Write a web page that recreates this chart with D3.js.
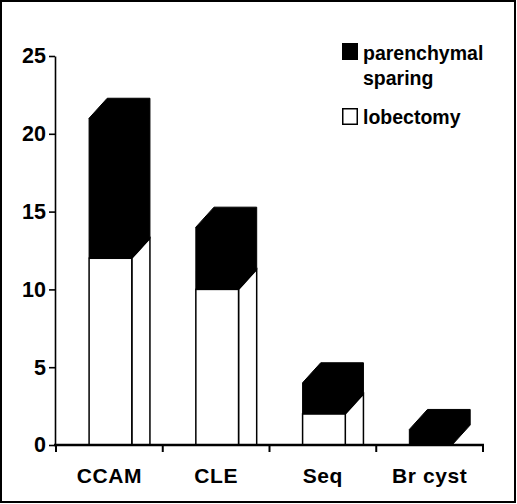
<!DOCTYPE html>
<html>
<head>
<meta charset="utf-8">
<script src="https://cdn.jsdelivr.net/npm/d3@7"></script>
<style>
  html, body { margin: 0; padding: 0; background: #fff; }
  svg { display: block; }
  text { font-family: "Liberation Sans", Arial, sans-serif; font-weight: bold; fill: #000; }
</style>
</head>
<body>
<svg id="chart" width="517" height="504"></svg>
<script>
const categories = ["CCAM", "CLE", "Seq", "Br cyst"];
const lobectomy = [12, 10, 2, 0];
const parenchymalSparing = [9, 4, 2, 1];
const yTicks = [0, 5, 10, 15, 20, 25];
const legendLabels = [["parenchymal", "sparing"], ["lobectomy"]];

const svg = d3.select("#chart");

// frame
svg.append("rect").attr("x", 1).attr("y", 1).attr("width", 514).attr("height", 501)
  .attr("fill", "#fff").attr("stroke", "#000").attr("stroke-width", 2);

const x = d3.scaleBand().domain(categories).range([56, 483]).padding(0);
const y = d3.scaleLinear().domain([0, 25]).range([445, 56]);

const bw = x.bandwidth();
const dx = bw * 0.17, dy = 20;
const y0 = y(0);

const g = svg.append("g");

categories.forEach((c, i) => {
  const xl = x(c) + bw * 0.31;
  const xr = xl + bw * 0.40;
  const lob = lobectomy[i];
  const tot = lob + parenchymalSparing[i];
  const yl = y(lob), yt = y(tot);
  if (lob > 0) {
    g.append("polygon")
      .attr("points", [[xr, y0], [xr, yl], [xr + dx, yl - dy], [xr + dx, y0]].map(p => p.join(",")).join(" "))
      .attr("fill", "#fff").attr("stroke", "#000").attr("stroke-width", 1.5);
    g.append("rect").attr("x", xl).attr("y", yl).attr("width", xr - xl).attr("height", y0 - yl)
      .attr("fill", "#fff").attr("stroke", "#000").attr("stroke-width", 1.5);
  }
  const sideBottom = lob > 0 ? [[xr, yl], [xr + dx, yl - dy]] : [[xr, y0], [xr + dx, y0 - dy]];
  g.append("polygon")
    .attr("points", [[xl, yl], [xl, yt], [xl + dx, yt - dy], [xr + dx, yt - dy],
                     [xr + dx, sideBottom[1][1]], [xr, sideBottom[0][1]]].map(p => p.join(",")).join(" "))
    .attr("fill", "#000").attr("stroke", "#000").attr("stroke-width", 1);
});

// y axis
const yAxis = svg.append("g").attr("transform", "translate(55,0)")
  .call(d3.axisLeft(y).tickValues(yTicks).tickSize(6).tickPadding(3).tickSizeOuter(0));
yAxis.select(".domain").attr("stroke", "#000").attr("stroke-width", 1.6);
yAxis.selectAll(".tick line").attr("stroke", "#000").attr("stroke-width", 1.6);
yAxis.selectAll(".tick text").style("font-size", "21.5px").attr("fill", "#000");

// x axis baseline with boundary ticks
const bounds = categories.map(c => x(c)).concat([x.range()[1]]);
svg.append("line").attr("x1", 54).attr("x2", x.range()[1] + 1).attr("y1", y0).attr("y2", y0)
  .attr("stroke", "#000").attr("stroke-width", 2.6);
svg.selectAll(".xtick").data(bounds).enter().append("line")
  .attr("x1", d => d).attr("x2", d => d).attr("y1", y0).attr("y2", y0 + 7)
  .attr("stroke", "#000").attr("stroke-width", 2);
svg.selectAll(".xlab").data(categories).enter().append("text")
  .attr("x", d => x(d) + bw / 2).attr("y", 483)
  .attr("text-anchor", "middle").style("font-size", "21px").style("letter-spacing", "0.6px")
  .text(d => d);

// legend
const leg = svg.append("g");
leg.append("rect").attr("x", 342).attr("y", 43).attr("width", 16).attr("height", 17).attr("fill", "#000");
leg.append("text").attr("x", 363).attr("y", 60).style("font-size", "19.5px").text(legendLabels[0][0]);
leg.append("text").attr("x", 363).attr("y", 85).style("font-size", "19.5px").text(legendLabels[0][1]);
leg.append("rect").attr("x", 342.75).attr("y", 108.75).attr("width", 14.5).attr("height", 15.5)
  .attr("fill", "#fff").attr("stroke", "#000").attr("stroke-width", 1.5);
leg.append("text").attr("x", 363).attr("y", 124).style("font-size", "19.5px").text(legendLabels[1][0]);
</script>
</body>
</html>
